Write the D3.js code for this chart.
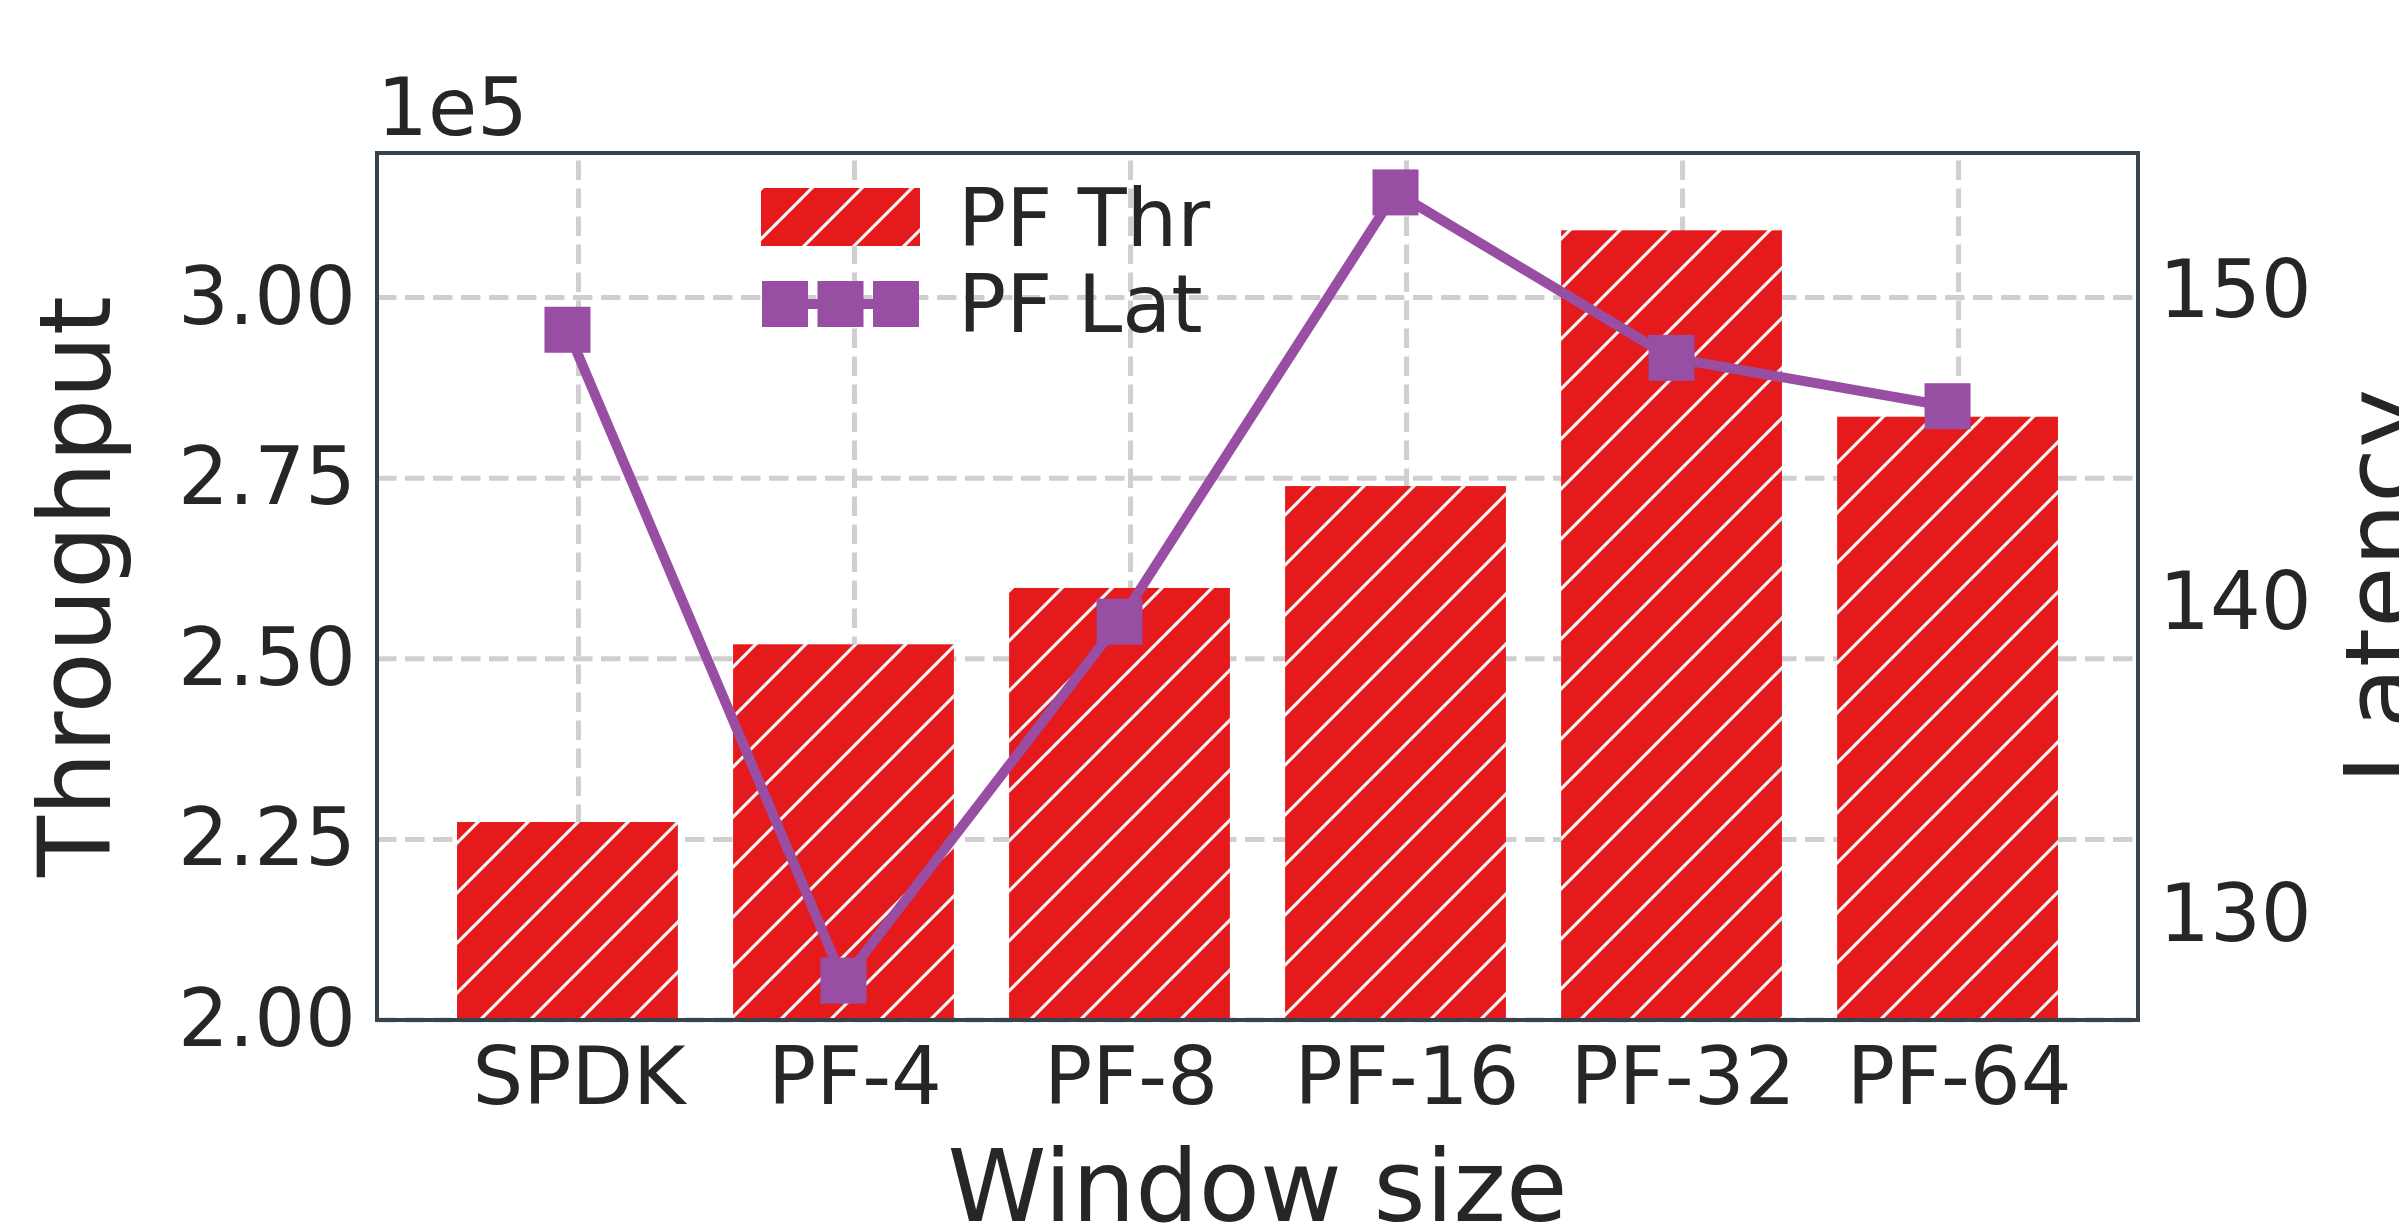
<!DOCTYPE html>
<html>
<head>
<meta charset="utf-8">
<script src="https://cdn.jsdelivr.net/npm/d3@7"></script>
<style>
  html, body { margin: 0; padding: 0; background: #ffffff; }
  svg { display: block; font-family: "DejaVu Sans", sans-serif; }
</style>
</head>
<body>
<svg id="chart" width="2399" height="1228"></svg>
<script>
// ---------- data ----------
const categories = ["SPDK", "PF-4", "PF-8", "PF-16", "PF-32", "PF-64"];
const throughput = [227400, 252000, 259800, 273900, 309300, 283500];
const latency = [148.75, 127.9, 139.4, 153.15, 147.85, 146.3];
const thrTicks = [200000, 225000, 250000, 275000, 300000];
const latTicks = [130, 140, 150];
const thrDomain = [200000, 320000];
const legendLabels = ["PF Thr", "PF Lat"];
const xLabel = "Window size";
const yLeftLabel = "Throughput";
const yRightLabel = "Latency";
const offsetLabel = "1e5";

// ---------- layout ----------
const W = 2399, H = 1228;
const plot = { left: 377, right: 2138, top: 153, bottom: 1020 };
const textColor = "#262626";
const barColor = "#e41a1c";
const lineColor = "#984ea3";
const gridColor = "#cfcfcf";
const spineColor = "#37434d";
const lineW = 10;

const svg = d3.select("#chart");

// hatch pattern
const defs = svg.append("defs");
const pat = defs.append("pattern")
  .attr("id", "hatch")
  .attr("patternUnits", "userSpaceOnUse")
  .attr("width", 50).attr("height", 50);
pat.append("rect").attr("width", 50).attr("height", 50).attr("fill", barColor);
[[0, 50, 50, 0], [-10, 10, 10, -10], [40, 60, 60, 40]].forEach(([x1, y1, x2, y2]) => {
  pat.append("line")
    .attr("x1", x1).attr("y1", y1).attr("x2", x2).attr("y2", y2)
    .attr("stroke", "#f4f4f4").attr("stroke-width", 3.1);
});

// scales
const idx = categories.map((d, i) => i);
const barW = 0.8;
const x = d3.scaleLinear()
  .domain([-barW / 2 - 0.29, categories.length - 1 + barW / 2 + 0.29])
  .range([plot.left, plot.right]);
const tickShift = 0.04;
const yL = d3.scaleLinear().domain(thrDomain).range([plot.bottom, plot.top]);
const latExt = d3.extent(latency);
const latPad = (latExt[1] - latExt[0]) * 0.05;
const yR = d3.scaleLinear().domain([latExt[0] - latPad, latExt[1] + latPad]).range([plot.bottom, plot.top]);

// grid
const grid = svg.append("g");
grid.selectAll("line.h").data(thrTicks).enter().append("line")
  .attr("x1", plot.left).attr("x2", plot.right)
  .attr("y1", d => yL(d)).attr("y2", d => yL(d))
  .attr("stroke", gridColor).attr("stroke-width", 5)
  .attr("stroke-dasharray", "19.5,8.5");
grid.selectAll("line.v").data(idx).enter().append("line")
  .attr("x1", d => x(d + tickShift)).attr("x2", d => x(d + tickShift))
  .attr("y1", plot.bottom).attr("y2", plot.top)
  .attr("stroke", gridColor).attr("stroke-width", 5)
  .attr("stroke-dasharray", "19.5,8.5");

// bars
svg.append("g").selectAll("rect").data(throughput).enter().append("rect")
  .attr("x", (d, i) => x(i - barW / 2))
  .attr("width", (d, i) => x(i + barW / 2) - x(i - barW / 2))
  .attr("y", d => yL(d))
  .attr("height", d => yL(thrDomain[0]) - yL(d))
  .attr("fill", "url(#hatch)");

// legend
const leg = svg.append("g");
leg.append("rect").attr("x", 761).attr("y", 188).attr("width", 159).attr("height", 58)
  .attr("fill", "url(#hatch)");
leg.append("text").attr("x", 958).attr("y", 246).attr("font-size", 80)
  .attr("fill", textColor).text(legendLabels[0]);
leg.append("line").attr("x1", 785).attr("x2", 896).attr("y1", 304).attr("y2", 304)
  .attr("stroke", lineColor).attr("stroke-width", lineW);
[785, 840.5, 896].forEach(cx => {
  leg.append("rect").attr("x", cx - 23).attr("y", 304 - 23).attr("width", 46).attr("height", 46)
    .attr("fill", lineColor);
});
leg.append("text").attr("x", 958).attr("y", 332).attr("font-size", 80)
  .attr("fill", textColor).text(legendLabels[1]);

// latency line
const lineGen = d3.line().x((d, i) => x(i)).y(d => yR(d));
svg.append("path").datum(latency)
  .attr("d", lineGen)
  .attr("fill", "none").attr("stroke", lineColor).attr("stroke-width", lineW)
  .attr("stroke-linejoin", "round");
svg.append("g").selectAll("rect").data(latency).enter().append("rect")
  .attr("x", (d, i) => x(i) - 23).attr("y", d => yR(d) - 23)
  .attr("width", 46).attr("height", 46)
  .attr("fill", lineColor);

// spines
svg.append("rect")
  .attr("x", plot.left).attr("y", plot.top)
  .attr("width", plot.right - plot.left).attr("height", plot.bottom - plot.top)
  .attr("fill", "none").attr("stroke", spineColor).attr("stroke-width", 4);

// axes
function styleAxis(g) {
  g.select(".domain").remove();
  g.selectAll("line").remove();
  g.selectAll("text").attr("font-size", 80).attr("fill", textColor)
    .attr("font-family", "DejaVu Sans, sans-serif");
}
svg.append("g").attr("transform", `translate(${plot.left},0)`)
  .call(d3.axisLeft(yL).tickValues(thrTicks).tickSize(0).tickPadding(21)
    .tickFormat(d => (d / 1e5).toFixed(2)))
  .call(styleAxis);
svg.append("g").attr("transform", `translate(${plot.right},0)`)
  .call(d3.axisRight(yR).tickValues(latTicks).tickSize(0).tickPadding(21)
    .tickFormat(d3.format("d")))
  .call(styleAxis);
svg.append("g").attr("transform", `translate(0,${plot.bottom})`)
  .call(d3.axisBottom(x).tickValues(idx.map(i => i + tickShift)).tickSize(0).tickPadding(27)
    .tickFormat(v => categories[Math.round(v - tickShift)]))
  .call(styleAxis);

// labels
svg.append("text").attr("x", plot.left).attr("y", 135).attr("font-size", 80)
  .attr("fill", textColor).text(offsetLabel);
svg.append("text").attr("x", (plot.left + plot.right) / 2).attr("y", 1221)
  .attr("text-anchor", "middle").attr("font-size", 100).attr("fill", textColor).text(xLabel);
svg.append("text")
  .attr("transform", `translate(110,${(plot.top + plot.bottom) / 2}) rotate(-90)`)
  .attr("text-anchor", "middle").attr("font-size", 100).attr("fill", textColor).text(yLeftLabel);
svg.append("text")
  .attr("transform", `translate(2416,${(plot.top + plot.bottom) / 2}) rotate(-90)`)
  .attr("text-anchor", "middle").attr("font-size", 100).attr("fill", textColor).text(yRightLabel);
</script>
</body>
</html>
